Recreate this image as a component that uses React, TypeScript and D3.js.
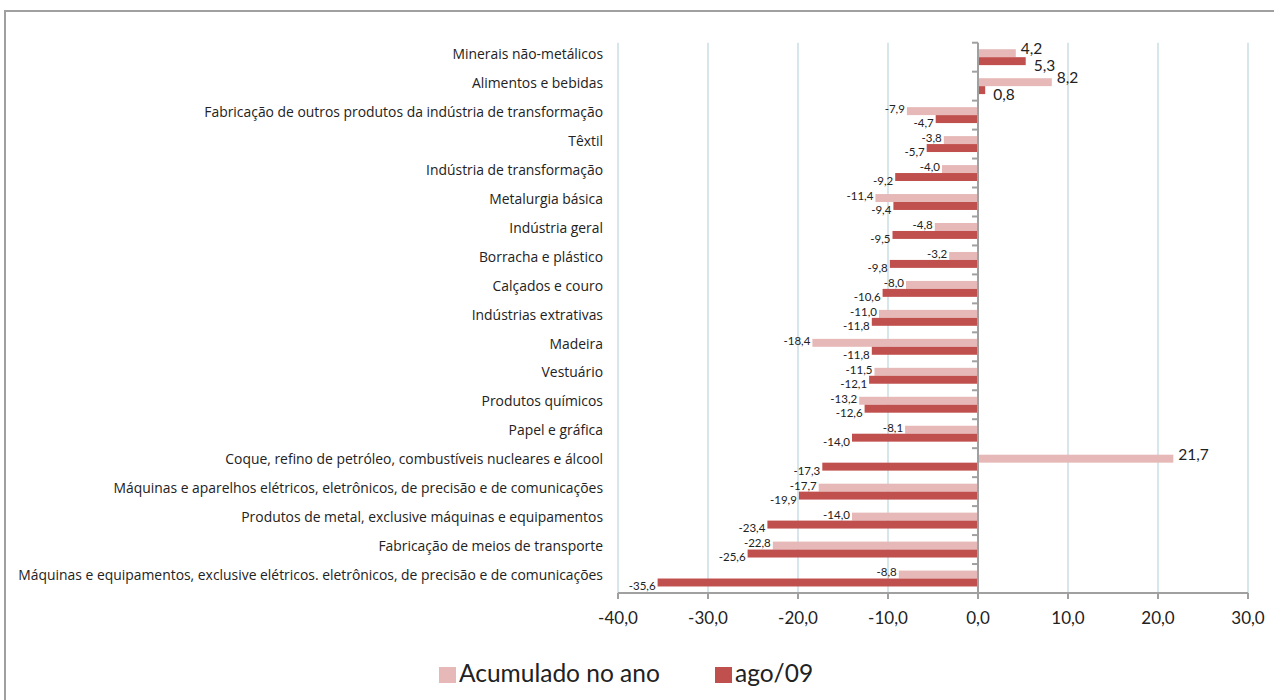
import * as d3 from 'd3';

// Categories, top to bottom
const categories = [
  'Minerais não-metálicos',
  'Alimentos e bebidas',
  'Fabricação de outros produtos da indústria de transformação',
  'Têxtil',
  'Indústria de transformação',
  'Metalurgia básica',
  'Indústria geral',
  'Borracha e plástico',
  'Calçados e couro',
  'Indústrias extrativas',
  'Madeira',
  'Vestuário',
  'Produtos químicos',
  'Papel e gráfica',
  'Coque, refino de petróleo, combustíveis nucleares e álcool',
  'Máquinas e aparelhos elétricos, eletrônicos, de precisão e de comunicações',
  'Produtos de metal, exclusive máquinas e equipamentos',
  'Fabricação de meios de transporte',
  'Máquinas e equipamentos, exclusive elétricos. eletrônicos, de precisão e de comunicações',
];

const acumulado = [4.2, 8.2, -7.9, -3.8, -4.0, -11.4, -4.8, -3.2, -8.0, -11.0, -18.4, -11.5, -13.2, -8.1, 21.7, -17.7, -14.0, -22.8, -8.8];
const ago09 = [5.3, 0.8, -4.7, -5.7, -9.2, -9.4, -9.5, -9.8, -10.6, -11.8, -11.8, -12.1, -12.6, -14.0, -17.3, -19.9, -23.4, -25.6, -35.6];

const xTicks = [-40, -30, -20, -10, 0, 10, 20, 30];
const seriesNames = ['Acumulado no ano', 'ago/09'];

const W = 1274;
const H = 700;
const FONT = 'Lato, sans-serif';
const LABEL_FONT = '"Open Sans", sans-serif';
const LIGHT = '#e6b9b8';
const DARK = '#c0504d';
const AXIS = '#a0a0a0';
const GRID = '#d6e6ea';

const fmt = (v: number) => v.toFixed(1).replace('.', ',');

export default function App() {
  const x = d3.scaleLinear().domain([-40, 30]).range([618, 1248]);
  const y = d3.scaleBand<string>().domain(categories).range([42.7, 593]).padding(0);
  const inner = d3
    .scaleBand<string>()
    .domain(seriesNames)
    .range([0, y.bandwidth()])
    .paddingInner(0)
    .paddingOuter(0.82);

  const series = [
    { name: seriesNames[0], values: acumulado, color: LIGHT },
    { name: seriesNames[1], values: ago09, color: DARK },
  ];

  const top = y.range()[0];
  const bottom = y.range()[1];
  const boundaries = d3.range(categories.length + 1).map((i) => top + i * y.step());

  return (
    <svg width={W} height={H} style={{ position: 'absolute', left: 0, top: 0, background: '#fff' }}>
      {/* frame */}
      <rect x={5} y={11} width={W + 10} height={H + 10} fill="#fff" stroke={AXIS} strokeWidth={2} />

      {/* vertical grid */}
      {xTicks
        .filter((t) => t !== 0)
        .map((t) => (
          <line key={t} x1={x(t)} x2={x(t)} y1={top} y2={bottom} stroke={GRID} strokeWidth={2} />
        ))}

      {/* bars */}
      {series.map((s, si) =>
        categories.map((c, i) => {
          const v = s.values[i];
          const by = (y(c) ?? 0) + (inner(s.name) ?? 0);
          return (
            <rect
              key={`${si}-${i}`}
              x={Math.min(x(0), x(v))}
              y={by}
              width={Math.abs(x(v) - x(0))}
              height={inner.bandwidth()}
              fill={s.color}
            />
          );
        })
      )}

      {/* zero axis with band ticks */}
      <line x1={x(0)} x2={x(0)} y1={top} y2={bottom} stroke={AXIS} strokeWidth={2} />
      {boundaries.map((b, i) => (
        <line key={i} x1={x(0) - 6} x2={x(0)} y1={b} y2={b} stroke={AXIS} strokeWidth={2} />
      ))}

      {/* x axis */}
      <line x1={x(-40)} x2={x(30)} y1={bottom} y2={bottom} stroke={AXIS} strokeWidth={2} />
      {xTicks.map((t) => (
        <g key={t}>
          <line x1={x(t)} x2={x(t)} y1={bottom} y2={bottom + 6} stroke={AXIS} strokeWidth={2} />
          <text
            x={x(t)}
            y={bottom + 31}
            textAnchor="middle"
            fontFamily={FONT}
            fontSize={17}
            fill="#222"
          >
            {fmt(t)}
          </text>
        </g>
      ))}

      {/* category labels */}
      {categories.map((c) => (
        <text
          key={c}
          x={603}
          y={(y(c) ?? 0) + y.bandwidth() / 2 - 2}
          textAnchor="end"
          dominantBaseline="middle"
          fontFamily={LABEL_FONT}
          fontSize={13.9}
          fill="#222"
        >
          {c}
        </text>
      ))}

      {/* value labels */}
      {series.map((s, si) =>
        categories.map((c, i) => {
          const v = s.values[i];
          const cy = (y(c) ?? 0) + (inner(s.name) ?? 0) + inner.bandwidth() / 2;
          if (v >= 0) {
            return (
              <text
                key={`l${si}-${i}`}
                x={x(v) + (si === 0 ? 5 : 8)}
                y={cy + (si === 0 ? -3 : 6)}
                dominantBaseline="middle"
                fontFamily={FONT}
                fontSize={15.5}
                fill="#222"
              >
                {fmt(v)}
              </text>
            );
          }
          return (
            <text
              key={`l${si}-${i}`}
              x={x(v) - 2}
              y={cy + (si === 0 ? -1 : 5)}
              textAnchor="end"
              dominantBaseline="middle"
              fontFamily={FONT}
              fontSize={11.5}
              fill="#222"
            >
              {fmt(v)}
            </text>
          );
        })
      )}

      {/* legend */}
      {series.map((s, si) => {
        const lx = si === 0 ? 439 : 715;
        return (
          <g key={s.name}>
            <rect x={lx} y={667} width={17} height={16} fill={s.color} />
            <text x={lx + 20} y={676} dominantBaseline="middle" fontFamily={FONT} fontSize={24.5} fill="#222">
              {s.name}
            </text>
          </g>
        );
      })}
    </svg>
  );
}
